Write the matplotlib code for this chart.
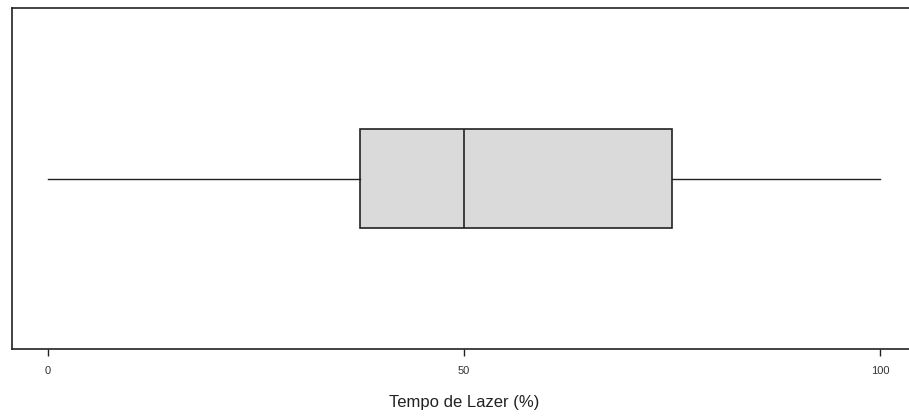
import matplotlib
matplotlib.use("Agg")
import matplotlib.pyplot as plt

# Data (summary statistics of "Tempo de Lazer (%)")
whisker_low = 0.0
q1 = 37.5
median = 50.0
q3 = 75.0
whisker_high = 100.0
xticks = [0, 50, 100]
xlabel = "Tempo de Lazer (%)"

W, H = 909, 420
fig = plt.figure(figsize=(W / 100, H / 100), dpi=100)
plt.rcParams['font.family'] = ['Liberation Sans', 'DejaVu Sans']

x0, x1 = -4.33, 104.33
left_px, right_px = 12, 48 + 104.33 * 8.32
top_px, bottom_px = 8, 349
ax = fig.add_axes([left_px / W, (H - bottom_px) / H,
                   (right_px - left_px) / W, (bottom_px - top_px) / H])

stats = [dict(whislo=whisker_low, q1=q1, med=median, q3=q3, whishi=whisker_high,
              fliers=[])]
ax.bxp(stats, positions=[1], widths=[0.29], vert=False, patch_artist=True,
       showcaps=False,
       boxprops=dict(facecolor='#dadada', edgecolor='#222222', linewidth=1.2),
       medianprops=dict(color='#222222', linewidth=1.2),
       whiskerprops=dict(color='#222222', linewidth=1.0))

ax.set_xlim(x0, x1)
ax.set_ylim(0.5, 1.5)
ax.set_yticks([])
ax.set_xticks(xticks)
ax.set_xticklabels([str(t) for t in xticks], fontsize=8, color='#333333')
ax.tick_params(axis='x', length=5, width=1, pad=7, color='#222222')
for s in ax.spines.values():
    s.set_color('#222222')
    s.set_linewidth(1.2)
ax.set_xlabel(xlabel, fontsize=12, color='#222222', labelpad=14)

fig.savefig("out.png", dpi=100)
